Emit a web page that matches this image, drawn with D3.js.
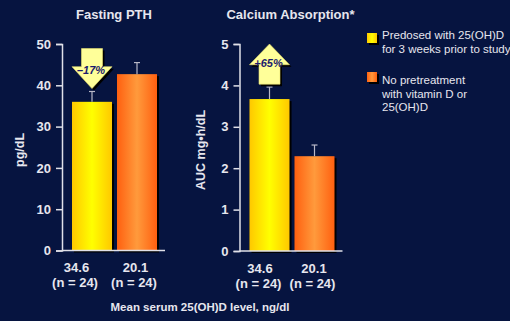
<!DOCTYPE html>
<html>
<head>
<meta charset="utf-8">
<script src="https://cdn.jsdelivr.net/npm/d3@7"></script>
<style>
  html, body { margin: 0; padding: 0; background: #061440; }
  svg { display: block; font-family: "Liberation Sans", Arial, sans-serif; }
</style>
</head>
<body>
<div id="chart"></div>
<script>
// Data
const groups = ['34.6', '20.1']
const groupN = ['(n = 24)', '(n = 24)']
const groupKeys = ['pre', 'none']
const pthValues = [36, 42.7]
const pthErrors = [2.5, 2.8]
const pthTicks = [0, 10, 20, 30, 40, 50]
const caValues = [3.67, 2.29]
const caErrors = [0.29, 0.27]
const caTicks = [0, 1, 2, 3, 4, 5]
const legendLabels = [
  ['Predosed with 25(OH)D', 'for 3 weeks prior to study'],
  ['No pretreatment', 'with vitamin D or', '25(OH)D'],
]

const width = 510
const height = 321
const textColor = '#e6e6ee'

const svg = d3.select('#chart')
  .append('svg')
  .attr('width', width)
  .attr('height', height)

svg.append('rect')
  .attr('width', width)
  .attr('height', height)
  .attr('fill', '#061440')

// Gradients
const defs = svg.append('defs')
function addGrad(id, edge, mid) {
  const g = defs.append('linearGradient').attr('id', id)
    .attr('x1', '0%').attr('x2', '100%').attr('y1', '0%').attr('y2', '0%')
  g.append('stop').attr('offset', '0%').attr('stop-color', edge)
  g.append('stop').attr('offset', '50%').attr('stop-color', mid)
  g.append('stop').attr('offset', '100%').attr('stop-color', edge)
}
addGrad('grad-pre', '#ffc800', '#ffff00')
addGrad('grad-none', '#ff6010', '#ff9a3c')
const fills = { pre: 'url(#grad-pre)', none: 'url(#grad-none)' }

function drawPanel(opt) {
  const ctr = svg.append('g')

  const x = d3.scaleBand()
    .domain(groupKeys)
    .range([opt.x0 + 10, opt.x0 + 95])
    .paddingInner(0.111)
    .paddingOuter(0)

  const y = d3.scaleLinear()
    .domain([0, opt.max])
    .range([opt.y0, 44])

  // Title
  ctr.append('text')
    .attr('x', opt.x0 + opt.titleDx)
    .attr('y', 19)
    .attr('text-anchor', 'middle')
    .attr('fill', textColor)
    .style('font-size', '13px')
    .style('font-weight', 'bold')
    .text(opt.title)

  // Y axis
  const yAxis = d3.axisLeft(y)
    .tickValues(opt.ticks)
    .tickFormat(d3.format('d'))
    .tickSize(6)
    .tickPadding(5)
  const yg = ctr.append('g')
    .attr('transform', `translate(${opt.x0}, 0)`)
    .call(yAxis)
  yg.select('.domain').attr('stroke', '#e0e0e8').attr('stroke-width', 1.5)
  yg.selectAll('.tick line').attr('stroke', '#e0e0e8').attr('stroke-width', 1.5)
  yg.selectAll('.tick text')
    .attr('fill', textColor)
    .style('font-size', '13px')
    .style('font-weight', 'bold')

  // Y title
  ctr.append('text')
    .attr('transform', `translate(${opt.yTitleX}, 150) rotate(-90)`)
    .attr('text-anchor', 'middle')
    .attr('fill', textColor)
    .style('font-size', '12.5px')
    .style('font-weight', 'bold')
    .text(opt.yTitle)

  // Shadows
  ctr.selectAll('rect.shadow')
    .data(opt.values)
    .join('rect')
    .attr('class', 'shadow')
    .attr('x', (d, i) => x(groupKeys[i]) + 2)
    .attr('y', d => y(d) + 2)
    .attr('width', x.bandwidth())
    .attr('height', d => y(0) - y(d))
    .attr('fill', '#000')

  // Bars
  ctr.selectAll('rect.bar')
    .data(opt.values)
    .join('rect')
    .attr('class', 'bar')
    .attr('x', (d, i) => x(groupKeys[i]))
    .attr('y', d => y(d))
    .attr('width', x.bandwidth())
    .attr('height', d => y(0) - y(d))
    .attr('fill', (d, i) => fills[groupKeys[i]])

  // Error bars
  const eg = ctr.append('g').attr('stroke', '#b8b8c8').attr('stroke-width', 1.2)
  opt.values.forEach((v, i) => {
    const cx = x(groupKeys[i]) + x.bandwidth() / 2
    eg.append('line')
      .attr('x1', cx).attr('x2', cx)
      .attr('y1', y(v)).attr('y2', y(v + opt.errors[i]))
    eg.append('line')
      .attr('x1', cx - 3).attr('x2', cx + 3)
      .attr('y1', y(v + opt.errors[i])).attr('y2', y(v + opt.errors[i]))
  })

  // X axis baseline
  ctr.append('line')
    .attr('x1', opt.x0).attr('x2', opt.x0 + 103)
    .attr('y1', y(0)).attr('y2', y(0))
    .attr('stroke', '#e0e0e8')
    .attr('stroke-width', 1.5)

  // X labels (offset left of the bar centres, as in the original slide)
  groupKeys.forEach((k, i) => {
    const cx = x(k) + x.bandwidth() / 2 + opt.labelShift[i]
    const t = ctr.append('text')
      .attr('x', cx)
      .attr('text-anchor', 'middle')
      .attr('fill', textColor)
      .style('font-size', '13px')
      .style('font-weight', 'bold')
    t.append('tspan').attr('x', cx + 1.5).attr('y', y(0) + 21.5).text(groups[i])
    t.append('tspan').attr('x', cx).attr('y', y(0) + 36.5).text(groupN[i])
  })

  // Arrow annotation
  const a = opt.arrow
  const cx = x(groupKeys[0]) + x.bandwidth() / 2
  const yTip = y(a.tip)
  const yEnd = y(a.tail)
  const yHead = y(a.head)
  const hw = 20
  const sw = 10.5
  const pts = [
    [cx - sw, yEnd], [cx - sw, yHead], [cx - hw, yHead], [cx, yTip],
    [cx + hw, yHead], [cx + sw, yHead], [cx + sw, yEnd],
  ]
  const line = d3.line()
  ctr.append('path')
    .attr('d', line(pts) + 'Z')
    .attr('transform', 'translate(2,2)')
    .attr('fill', '#000')
  ctr.append('path')
    .attr('d', line(pts) + 'Z')
    .attr('fill', '#ffff99')
    .attr('stroke', '#e8e070')
    .attr('stroke-width', 0.6)
  ctr.append('text')
    .attr('x', cx - 1)
    .attr('y', y(a.label) + 4)
    .attr('text-anchor', 'middle')
    .attr('fill', '#1c1c6c')
    .style('font-size', '11px')
    .style('font-weight', 'bold')
    .style('font-style', 'italic')
    .text(a.text)
}

drawPanel({
  x0: 62, y0: 250.5, max: 50, ticks: pthTicks,
  values: pthValues, errors: pthErrors,
  title: 'Fasting PTH', titleDx: 52,
  yTitle: 'pg/dL', yTitleX: 24,
  labelShift: [-17, -3],
  arrow: { tail: 48.9, head: 44.5, tip: 39.2, label: 43.8, text: '\u201317%' },
})

drawPanel({
  x0: 239.5, y0: 251, max: 5, ticks: caTicks,
  values: caValues, errors: caErrors,
  title: 'Calcium Absorption*', titleDx: 51,
  yTitle: 'AUC mg\u2022h/dL', yTitleX: 205,
  labelShift: [-11, -2],
  arrow: { tail: 4.03, head: 4.5, tip: 5.0, label: 4.55, text: '+65%' },
})

// Legend
const legend = svg.append('g').attr('transform', 'translate(367, 33)')
const legendKeys = groupKeys
legendKeys.forEach((k, i) => {
  const g = legend.append('g').attr('transform', `translate(0, ${i * 39})`)
  g.append('rect').attr('x', 2).attr('y', 2).attr('width', 10).attr('height', 10).attr('fill', '#000')
  g.append('rect').attr('width', 10).attr('height', 10).attr('fill', fills[k])
  const t = g.append('text')
    .attr('fill', textColor)
    .style('font-size', '11.5px')
  legendLabels[i].forEach((s, j) => {
    t.append('tspan').attr('x', 15).attr('y', 6 + j * 13.5 + (i === 1 ? 6 : 0)).text(s)
  })
})

// X title
svg.append('text')
  .attr('x', 200)
  .attr('y', 311)
  .attr('text-anchor', 'middle')
  .attr('fill', textColor)
  .style('font-size', '11.5px')
  .style('font-weight', 'bold')
  .text('Mean serum 25(OH)D level, ng/dl')
</script>
</body>
</html>
